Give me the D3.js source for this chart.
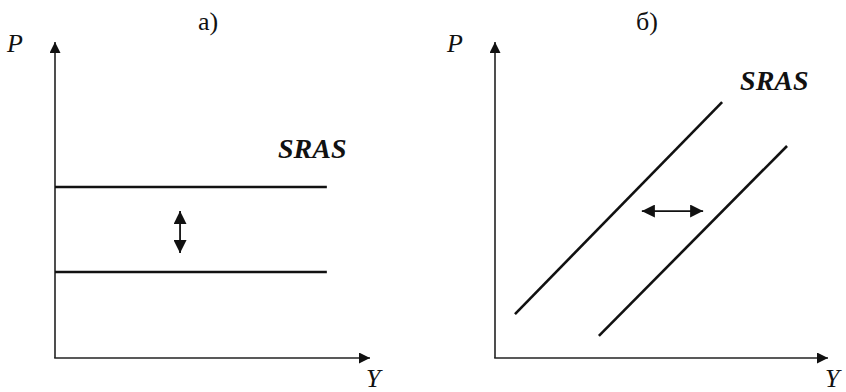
<!DOCTYPE html>
<html>
<head>
<meta charset="utf-8">
<script src="https://cdn.jsdelivr.net/npm/d3@7"></script>
<style>
  body { margin: 0; background: #fff; }
</style>
</head>
<body>
<div id="chart-area"></div>
<script>
let width = 846,
    height = 392;

// panel titles and labels
let panelTitles = ["а)", "б)"];
let axisLabels = ["P", "Y"];
let curveLabel = "SRAS";

// panel a): two horizontal SRAS levels (x0, x1, price level)
let flatLevels = [
  { x0: 0, x1: 86.3, p: 54.1 },
  { x0: 0, x1: 86.3, p: 27.2 }
];
// shift arrow in panel a)
let flatShift = { x: 39.7, p0: 46.5, p1: 33.2 };

// panel б): two upward sloping SRAS lines
let slopedLines = [
  { x0: 6.0, p0: 13.9, x1: 68.2, p1: 81.0 },
  { x0: 31.2, p0: 7.0, x1: 87.7, p1: 67.1 }
];
let slopedShift = { x0: 44.1, x1: 62.5, p: 46.5 };

let labelPos = [{ x: 70.8, p: 63.3 }, { x: 73.6, p: 84.8 }];

let serif = "'Liberation Serif', 'Times New Roman', Times, serif";

let svg = d3.select("#chart-area").append("svg")
    .attr("width", width)
    .attr("height", height)
    .attr("font-family", serif);

let defs = svg.append("defs");
function marker(id, w, h) {
  defs.append("marker")
    .attr("id", id)
    .attr("viewBox", "0 0 10 10")
    .attr("refX", 10).attr("refY", 5)
    .attr("markerUnits", "userSpaceOnUse")
    .attr("markerWidth", w).attr("markerHeight", h)
    .attr("orient", "auto-start-reverse")
    .append("path")
    .attr("d", "M0,0 L10,5 L0,10 Z")
    .attr("fill", "#111");
}
marker("axisArrow", 13, 11);
marker("shiftArrow", 13, 13);

// scales for the two panels
let xA = d3.scaleLinear().domain([0, 100]).range([55, 370]);
let yA = d3.scaleLinear().domain([0, 100]).range([358, 42]);
let xB = d3.scaleLinear().domain([0, 100]).range([495, 828]);
let yB = d3.scaleLinear().domain([0, 100]).range([358, 42]);

function drawAxes(x, y) {
  svg.append("line")
    .attr("x1", x(0)).attr("y1", y(0))
    .attr("x2", x(0)).attr("y2", y(100))
    .attr("stroke", "#222").attr("stroke-width", 1.6)
    .attr("marker-end", "url(#axisArrow)");
  svg.append("line")
    .attr("x1", x(0) - 0.8).attr("y1", y(0))
    .attr("x2", x(100)).attr("y2", y(0))
    .attr("stroke", "#222").attr("stroke-width", 1.6)
    .attr("marker-end", "url(#axisArrow)");
}
drawAxes(xA, yA);
drawAxes(xB, yB);

// panel a) lines
svg.selectAll(".flat")
  .data(flatLevels)
  .enter().append("line")
  .attr("class", "flat")
  .attr("x1", d => xA(d.x0)).attr("x2", d => xA(d.x1))
  .attr("y1", d => yA(d.p)).attr("y2", d => yA(d.p))
  .attr("stroke", "#111").attr("stroke-width", 2.6);

svg.append("line")
  .attr("x1", xA(flatShift.x)).attr("x2", xA(flatShift.x))
  .attr("y1", yA(flatShift.p0)).attr("y2", yA(flatShift.p1))
  .attr("stroke", "#111").attr("stroke-width", 1.8)
  .attr("marker-start", "url(#shiftArrow)")
  .attr("marker-end", "url(#shiftArrow)");

// panel б) lines
svg.selectAll(".sloped")
  .data(slopedLines)
  .enter().append("line")
  .attr("class", "sloped")
  .attr("x1", d => xB(d.x0)).attr("y1", d => yB(d.p0))
  .attr("x2", d => xB(d.x1)).attr("y2", d => yB(d.p1))
  .attr("stroke", "#111").attr("stroke-width", 2.6);

svg.append("line")
  .attr("x1", xB(slopedShift.x0)).attr("x2", xB(slopedShift.x1))
  .attr("y1", yB(slopedShift.p)).attr("y2", yB(slopedShift.p))
  .attr("stroke", "#111").attr("stroke-width", 1.8)
  .attr("marker-start", "url(#shiftArrow)")
  .attr("marker-end", "url(#shiftArrow)");

// text
svg.append("text").attr("x", 208).attr("y", 30)
  .attr("text-anchor", "middle").attr("font-size", 26).attr("fill", "#111")
  .text(panelTitles[0]);
svg.append("text").attr("x", 647).attr("y", 30)
  .attr("text-anchor", "middle").attr("font-size", 26).attr("fill", "#111")
  .text(panelTitles[1]);

[[7, 52, 366, 387], [447, 52, 825, 387]].forEach(function(p) {
  svg.append("text").attr("x", p[0]).attr("y", p[1]).attr("fill", "#111")
    .attr("font-size", 26).attr("font-style", "italic").text(axisLabels[0]);
  svg.append("text").attr("x", p[2]).attr("y", p[3]).attr("fill", "#111")
    .attr("font-size", 26).attr("font-style", "italic").text(axisLabels[1]);
});

svg.append("text").attr("x", xA(labelPos[0].x)).attr("y", yA(labelPos[0].p))
  .attr("font-size", 28).attr("font-weight", "bold").attr("font-style", "italic")
  .attr("fill", "#111").text(curveLabel);
svg.append("text").attr("x", xB(labelPos[1].x)).attr("y", yB(labelPos[1].p))
  .attr("font-size", 28).attr("font-weight", "bold").attr("font-style", "italic")
  .attr("fill", "#111").text(curveLabel);
</script>
</body>
</html>
